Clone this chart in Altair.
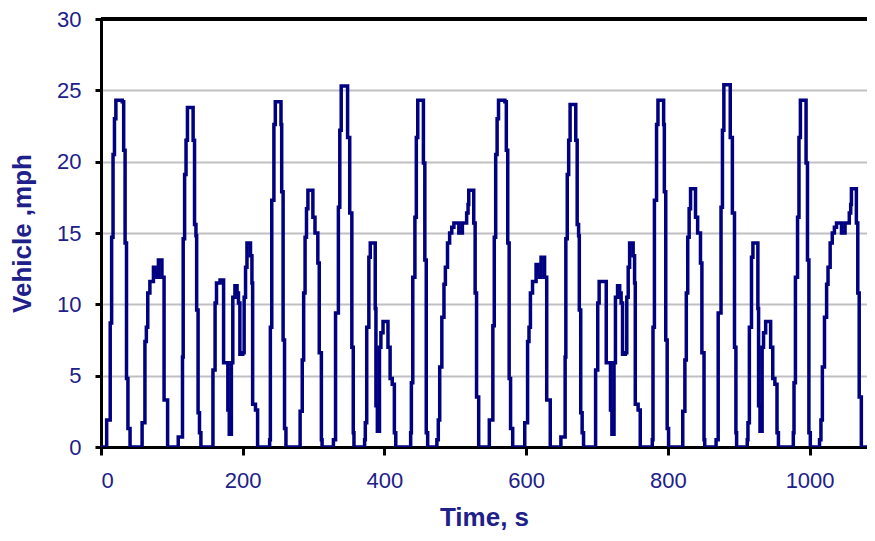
import altair as alt
import pandas as pd

# ---- data (time in s, speed in mph) ----
time_first = [
    0, 7, 8, 12, 13, 15, 17, 19, 21, 30, 32, 34, 36, 38, 41,
    57, 58, 61, 62, 64, 66, 69, 72, 74, 76, 79, 81, 84, 86, 88, 89, 92, 94,
    108, 109, 114, 115, 116, 118, 120, 122, 129, 130, 132, 134, 135, 137, 139, 141,
    156, 158, 161, 163, 168, 172, 173, 177, 179, 181, 183, 184, 186, 189, 192, 194, 196, 200, 202, 204, 206, 209, 211, 213, 214, 218, 221,
    236, 238, 239, 241, 244, 246, 252, 254, 255, 257, 259, 261,
    280, 281, 284, 286, 288, 290, 292, 298, 299, 302, 306, 308, 311, 312,
    327, 328, 331, 335, 337, 339, 347, 348, 351, 354, 356, 357,
    371, 372, 373, 375, 378, 380, 385, 387, 388, 390, 392, 393, 395, 398, 403, 405, 408, 411, 414, 416,
    436, 437, 438, 440, 443, 445, 447, 454, 455, 457, 459, 461,
    473, 474, 476, 478, 481, 484, 486, 489, 492, 495, 498, 503, 505, 508, 510, 514, 516, 518, 519, 525, 526, 528, 530, 533,
]
speed_first = [
    0, 0, 1.9, 1.9, 8.7, 14.7, 20.5, 23.0, 24.3, 24.2, 20.8, 14.3, 4.8, 1.3, 0,
    0, 1.7, 1.7, 7.4, 8.4, 10.8, 11.6, 11.6, 12.6, 12.2, 11.9, 13.1, 13.1, 11.9, 11.9, 3.3, 3.3, 0,
    0, 0.7, 0.7, 6.3, 14.6, 19.1, 21.5, 23.8, 23.8, 21.5, 15.6, 14.8, 9.6, 2.4, 1.0, 0,
    0, 5.4, 10.1, 11.5, 11.7, 11.7, 5.9, 5.9, 2.6, 0.9, 0.9, 5.9, 10.5, 11.3, 10.8, 10.1, 6.5, 6.6, 10.5, 12.6, 14.3, 14.3, 13.4, 11.5, 3.0, 2.6, 0,
    0, 0.5, 8.4, 17.3, 22.6, 24.2, 24.2, 22.6, 17.9, 7.5, 1.3, 0,
    0, 2.5, 6.1, 10.8, 14.7, 16.7, 18.0, 18.0, 16.1, 15.0, 12.9, 6.6, 0.5, 0,
    0, 0.5, 9.4, 16.8, 22.2, 25.3, 25.3, 21.7, 16.4, 7.0, 1.0, 0,
    0, 0.5, 1.7, 8.4, 13.3, 14.3, 14.3, 9.7, 2.9, 1.1, 1.1, 7.0, 8.0, 8.8, 8.8, 7.0, 4.8, 4.4, 1.0, 0,
    0, 1.0, 4.5, 11.9, 16.1, 21.7, 24.3, 24.3, 19.9, 13.1, 1.0, 0,
    0, 0.5, 1.9, 5.6, 9.1, 11.4, 12.6, 14.3, 15.0, 15.4, 15.7, 15.7, 15.0, 15.0, 15.7, 15.7, 16.4, 17.0, 18.0, 18.0, 15.7, 10.8, 3.5, 0,
]
time_second = [
    540, 547, 548, 552, 553, 555, 557, 559, 561, 570, 572, 574, 576, 578, 581,
    597, 598, 601, 602, 604, 606, 609, 612, 614, 616, 619, 621, 624, 626, 628, 629, 632, 634,
    648, 649, 654, 655, 656, 658, 660, 662, 669, 670, 672, 674, 675, 677, 679, 681,
    696, 698, 701, 703, 708, 712, 713, 717, 719, 721, 723, 724, 726, 729, 732, 734, 736, 740, 742, 744, 746, 749, 751, 753, 754, 758, 761,
    776, 778, 779, 781, 784, 786, 792, 794, 795, 797, 799, 801,
    820, 821, 824, 826, 828, 830, 832, 838, 839, 842, 846, 848, 851, 852,
    867, 868, 871, 875, 877, 879, 887, 888, 891, 894, 896, 897,
    911, 912, 913, 915, 918, 920, 925, 927, 928, 930, 932, 933, 935, 938, 943, 945, 948, 951, 954, 956,
    976, 977, 978, 980, 983, 985, 987, 994, 995, 997, 999, 1001,
    1013, 1014, 1016, 1018, 1021, 1024, 1026, 1029, 1032, 1035, 1038, 1043, 1045, 1048, 1050, 1054, 1056, 1058, 1059, 1065, 1066, 1068, 1070, 1073,
    1081,
]
speed_second = [
    0, 0, 1.9, 1.9, 8.5, 14.7, 20.5, 23.0, 24.3, 24.2, 20.8, 14.3, 4.8, 1.3, 0,
    0, 1.7, 1.7, 7.4, 8.4, 10.8, 11.6, 11.6, 12.8, 12.2, 11.9, 13.3, 13.3, 11.9, 11.9, 3.3, 3.3, 0,
    0, 0.7, 0.7, 6.3, 14.6, 19.1, 21.5, 24.0, 24.0, 21.5, 15.6, 14.8, 9.6, 2.4, 1.0, 0,
    0, 5.4, 10.1, 11.6, 11.6, 11.6, 5.9, 5.9, 2.6, 0.9, 0.9, 5.9, 10.5, 11.3, 10.8, 10.1, 6.5, 6.6, 10.5, 12.6, 14.3, 14.3, 13.4, 11.5, 3.0, 2.6, 0,
    0, 0.5, 8.4, 17.3, 22.6, 24.3, 24.3, 22.6, 17.9, 7.5, 1.3, 0,
    0, 2.5, 6.1, 10.8, 14.7, 16.7, 18.1, 18.1, 16.1, 15.0, 12.9, 6.6, 0.5, 0,
    0, 0.5, 9.4, 16.8, 22.2, 25.4, 25.4, 21.7, 16.4, 7.0, 1.0, 0,
    0, 0.5, 1.7, 8.4, 13.3, 14.3, 14.3, 9.7, 2.9, 1.1, 1.1, 7.0, 8.0, 8.8, 8.8, 7.0, 4.8, 4.4, 1.0, 0,
    0, 1.0, 4.5, 11.9, 16.1, 21.7, 24.3, 24.3, 19.9, 13.1, 1.0, 0,
    0, 0.5, 1.9, 5.6, 9.1, 11.4, 12.6, 14.3, 15.0, 15.4, 15.7, 15.7, 15.0, 15.0, 15.7, 15.7, 16.4, 17.0, 18.1, 18.1, 15.7, 10.8, 3.5, 0,
    0,
]
x_ticks = [0, 200, 400, 600, 800, 1000]
y_ticks = [0, 5, 10, 15, 20, 25, 30]

assert len(time_first) == len(speed_first)
assert len(time_second) == len(speed_second)

df = pd.DataFrame({
    "t": time_first + time_second,
    "v": speed_first + speed_second,
})

NAVY = "#000080"
TXT = "#20208a"
FONT = "Liberation Sans"

x_enc = alt.X(
    "t:Q",
    scale=alt.Scale(domain=[0, 1081], nice=False, zero=False),
    axis=alt.Axis(
        values=x_ticks, format="d", title="Time, s", grid=False,
        domainColor="black", domainWidth=3,
        tickColor="black", tickWidth=3, tickSize=8,
        labelFont=FONT, labelFontSize=22, labelColor=TXT, labelPadding=15,
        titleFont=FONT, titleFontSize=26, titleFontWeight="bold", titleColor=TXT,
        titleY=70, titleBaseline="middle",
    ),
)
y_enc = alt.Y(
    "v:Q",
    scale=alt.Scale(domain=[0, 30], nice=False),
    axis=alt.Axis(
        values=y_ticks, format="d", title="Vehicle ,mph", grid=True,
        gridColor="#c0c0c0", gridWidth=2,
        domainColor="black", domainWidth=3,
        tickColor="black", tickWidth=3, tickSize=6,
        labelFont=FONT, labelFontSize=22, labelColor=TXT, labelPadding=14,
        titleFont=FONT, titleFontSize=26, titleFontWeight="bold", titleColor=TXT,
        titleX=-79, titleY=214, titleAngle=270, titleAlign="center", titleBaseline="middle",
    ),
)

line = alt.Chart(df).mark_line(
    color=NAVY, strokeWidth=3.5, interpolate="step-after", clip=True
).encode(x=x_enc, y=y_enc)

top_border = alt.Chart(df).mark_rule(color="black", strokeWidth=3).encode(
    y=alt.datum(30),
)

chart = alt.layer(line, top_border).properties(
    width=766,
    height=428,
    autosize=alt.AutoSizeParams(type="none"),
    padding={"left": 93, "top": 11, "right": 0, "bottom": 85},
    background="white",
).configure_view(stroke=None)

chart.save("out.html", embed_options={"renderer": "svg", "actions": False})
